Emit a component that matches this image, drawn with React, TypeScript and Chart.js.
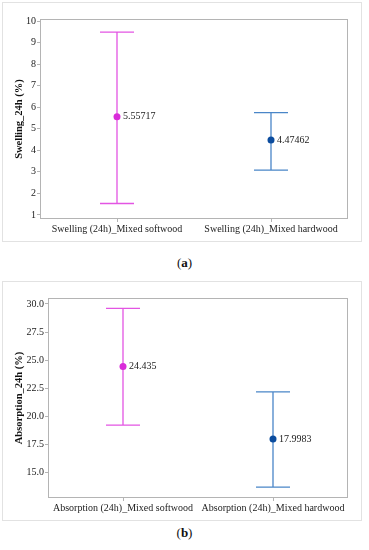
import React, { useEffect, useRef } from "react";
import { Chart, registerables } from "chart.js";

Chart.register(...registerables);

const swellCategories = ["Swelling (24h)_Mixed softwood", "Swelling (24h)_Mixed hardwood"];
const swellMeans = [5.55717, 4.47462];
const swellLow = [1.53, 3.08];
const swellHigh = [9.49, 5.75];
const swellTicks = [1, 2, 3, 4, 5, 6, 7, 8, 9, 10];

const absCategories = ["Absorption (24h)_Mixed softwood", "Absorption (24h)_Mixed hardwood"];
const absMeans = [24.435, 17.9983];
const absLow = [19.23, 13.71];
const absHigh = [29.6, 22.18];
const absTicks = [15.0, 17.5, 20.0, 22.5, 25.0, 27.5, 30.0];

const lineColors = ["#E355E3", "#4A86C8"];
const pointColors = ["#D92BD9", "#0B4C9E"];
const FONT = "'Liberation Serif', 'Times New Roman', serif";
const FS = 10;

type Cfg = {
  categories: string[];
  means: number[];
  low: number[];
  high: number[];
  ticks: number[];
  min: number;
  max: number;
  yTitle: string;
  yWidth: number;
  decimals: number;
  meanLabels: string[];
};

function ErrorChart({ cfg }: { cfg: Cfg }) {
  const ref = useRef<HTMLCanvasElement | null>(null);
  useEffect(() => {
    if (!ref.current) return;
    const errPlugin = {
      id: "errbars",
      beforeDatasetsDraw(chart: any) {
        const ctx = chart.ctx;
        const xs = chart.scales.x;
        const ys = chart.scales.y;
        const a = chart.chartArea;
        ctx.save();
        ctx.strokeStyle = "#b4b4b4";
        ctx.lineWidth = 1;
        ctx.strokeRect(a.left + 0.5, a.top + 0.5, a.right - a.left - 1, a.bottom - a.top - 1);
        cfg.categories.forEach((_, i) => {
          const x = xs.getPixelForValue(i);
          const yl = ys.getPixelForValue(cfg.low[i]);
          const yh = ys.getPixelForValue(cfg.high[i]);
          ctx.strokeStyle = lineColors[i];
          ctx.lineWidth = 1.3;
          ctx.beginPath();
          ctx.moveTo(x, yl);
          ctx.lineTo(x, yh);
          ctx.moveTo(x - 17, yl);
          ctx.lineTo(x + 17, yl);
          ctx.moveTo(x - 17, yh);
          ctx.lineTo(x + 17, yh);
          ctx.stroke();
        });
        ctx.restore();
      },
      afterDatasetsDraw(chart: any) {
        const ctx = chart.ctx;
        const xs = chart.scales.x;
        const ys = chart.scales.y;
        ctx.save();
        ctx.fillStyle = "#222";
        ctx.font = FS + "px " + FONT;
        ctx.textAlign = "left";
        ctx.textBaseline = "middle";
        cfg.means.forEach((m, i) => {
          ctx.fillText(cfg.meanLabels[i], xs.getPixelForValue(i) + 6, ys.getPixelForValue(m));
        });
        ctx.restore();
      },
    };
    const chart = new Chart(ref.current, {
      type: "line",
      data: {
        labels: cfg.categories,
        datasets: [
          {
            data: cfg.means,
            showLine: false,
            pointRadius: 3.5,
            pointBackgroundColor: pointColors,
            pointBorderColor: pointColors,
            pointBorderWidth: 0,
          },
        ],
      },
      options: {
        animation: false,
        responsive: false,
        maintainAspectRatio: false,
        layout: { padding: { top: 16, right: 13, left: 0, bottom: 0 } },
        plugins: { legend: { display: false }, tooltip: { enabled: false } },
        scales: {
          x: {
            type: "category",
            offset: true,
            grid: { drawOnChartArea: false, tickLength: 3, color: "#b4b4b4" },
            border: { display: false },
            ticks: { color: "#222", font: { family: FONT, size: FS }, padding: 1, maxRotation: 0, autoSkip: false },
            afterFit: (s: any) => { s.height = 22; },
          },
          y: {
            min: cfg.min,
            max: cfg.max,
            grid: { drawOnChartArea: false, tickLength: 3, color: "#b4b4b4" },
            border: { display: false },
            afterBuildTicks: (s: any) => { s.ticks = cfg.ticks.map((v) => ({ value: v })); },
            afterFit: (s: any) => { s.width = cfg.yWidth; },
            ticks: {
              color: "#222",
              font: { family: FONT, size: FS },
              padding: 1,
              callback: (v: any) => Number(v).toFixed(cfg.decimals),
            },
            title: {
              display: true,
              text: cfg.yTitle,
              color: "#111",
              font: { family: FONT, size: 10.5, weight: "bold" },
              padding: { top: 10, bottom: 0 },
            },
          },
        },
      },
      plugins: [errPlugin],
    } as any);
    return () => chart.destroy();
  }, []);
  return <canvas ref={ref} width={358} height={238} style={{ display: "block" }} />;
}

const swellCfg: Cfg = {
  categories: swellCategories,
  means: swellMeans,
  low: swellLow,
  high: swellHigh,
  ticks: swellTicks,
  min: 0.81,
  max: 10.1,
  yTitle: "Swelling_24h (%)",
  yWidth: 37,
  decimals: 0,
  meanLabels: ["5.55717", "4.47462"],
};

const absCfg: Cfg = {
  categories: absCategories,
  means: absMeans,
  low: absLow,
  high: absHigh,
  ticks: absTicks,
  min: 12.74,
  max: 30.53,
  yTitle: "Absorption_24h (%)",
  yWidth: 45,
  decimals: 1,
  meanLabels: ["24.435", "17.9983"],
};

const frame: React.CSSProperties = {
  position: "absolute",
  left: 2,
  width: 358,
  border: "1px solid #e2e2e2",
  background: "#fff",
};

const caption: React.CSSProperties = {
  position: "absolute",
  left: 0,
  width: 369,
  textAlign: "center",
  fontFamily: FONT,
  fontSize: 13,
  color: "#111",
};

export default function App() {
  return (
    <div style={{ position: "fixed", left: 0, top: 0, width: 369, height: 550, background: "#fff" }}>
      <div style={{ ...frame, top: 2, height: 238 }}>
        <ErrorChart cfg={swellCfg} />
      </div>
      <div style={{ ...caption, top: 255 }}>
        (<b>a</b>)
      </div>
      <div style={{ ...frame, top: 281, height: 238 }}>
        <ErrorChart cfg={absCfg} />
      </div>
      <div style={{ ...caption, top: 525 }}>
        (<b>b</b>)
      </div>
    </div>
  );
}
